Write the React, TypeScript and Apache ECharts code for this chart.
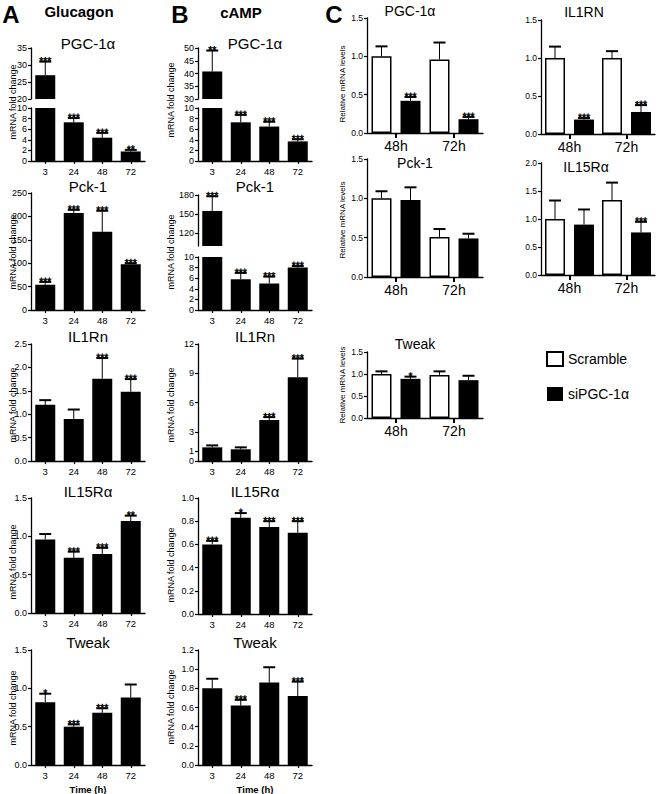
import React, { useEffect, useRef } from 'react';
import * as echarts from 'echarts';

const FONT = '"Liberation Sans", Arial, Helvetica, sans-serif';

// ---------- categories ----------
const timeCats = ['3', '24', '48', '72'];
const hourCats = ['48h', '72h'];

// ---------- Panel A (Glucagon) ----------
const aPgcMean = [27, 7.3, 4.4, 1.8];
const aPgcTop = [31, 8.1, 5.3, 2.1];
const aPgcSig = ['***', '***', '***', '**'];
const aPckMean = [54, 207, 167, 98];
const aPckTop = [60, 214, 212, 100];
const aPckSig = ['***', '***', '***', '***'];
const aIl1Mean = [1.2, 0.9, 1.76, 1.48];
const aIl1Top = [1.3, 1.1, 2.2, 1.75];
const aIl1Sig = ['', '', '***', '***'];
const aIl15Mean = [0.96, 0.72, 0.77, 1.2];
const aIl15Top = [1.03, 0.8, 0.85, 1.27];
const aIl15Sig = ['', '***', '***', '**'];
const aTwkMean = [0.82, 0.5, 0.68, 0.88];
const aTwkTop = [0.93, 0.53, 0.74, 1.05];
const aTwkSig = ['*', '***', '***', ''];

// ---------- Panel B (cAMP) ----------
const bPgcMean = [40.8, 7.3, 6.5, 3.7];
const bPgcTop = [49, 8.7, 7.4, 4.1];
const bPgcSig = ['**', '***', '***', '***'];
const bPckMean = [155, 5.8, 5.0, 8.0];
const bPckTop = [178, 7.0, 6.3, 8.3];
const bPckSig = ['***', '***', '***', '***'];
const bIl1Mean = [1.4, 1.2, 4.2, 8.6];
const bIl1Top = [1.6, 1.4, 4.5, 10.5];
const bIl1Sig = ['', '', '***', '***'];
const bIl15Mean = [0.6, 0.83, 0.75, 0.7];
const bIl15Top = [0.63, 0.87, 0.8, 0.8];
const bIl15Sig = ['***', '*', '***', '***'];
const bTwkMean = [0.8, 0.62, 0.86, 0.72];
const bTwkTop = [0.9, 0.68, 1.02, 0.87];
const bTwkSig = ['', '***', '', '***'];

// ---------- Panel C (Scramble vs siPGC-1α) ----------
const cPgcScr = [1.0, 0.96];
const cPgcScrTop = [1.13, 1.18];
const cPgcSi = [0.42, 0.18];
const cPgcSiTop = [0.47, 0.21];
const cPgcSiSig = ['***', '***'];
const cIl1Scr = [1.0, 1.0];
const cIl1ScrTop = [1.15, 1.09];
const cIl1Si = [0.19, 0.29];
const cIl1SiTop = [0.21, 0.38];
const cIl1SiSig = ['***', '***'];
const cPckScr = [1.0, 0.51];
const cPckScrTop = [1.09, 0.61];
const cPckSi = [0.98, 0.49];
const cPckSiTop = [1.14, 0.55];
const cPckSiSig = ['', ''];
const cIl15Scr = [1.0, 1.34];
const cIl15ScrTop = [1.33, 1.65];
const cIl15Si = [0.9, 0.76];
const cIl15SiTop = [1.17, 0.95];
const cIl15SiSig = ['', '***'];
const cTwkScr = [1.0, 0.98];
const cTwkScrTop = [1.06, 1.06];
const cTwkSi = [0.89, 0.86];
const cTwkSiTop = [0.94, 0.96];
const cTwkSiSig = ['*', ''];

const legendNames = ['Scramble', 'siPGC-1α'];

type Seg = {
  top: number; bottom: number; min: number; max: number;
  interval?: number; ticks?: number[]; dec: number;
};

function buildOption() {
  const grid: any[] = [];
  const xAxis: any[] = [];
  const yAxis: any[] = [];
  const series: any[] = [];
  const graphic: any[] = [];

  const addAxes = (left: number, width: number, seg: Seg, cats: string[], showX: boolean, big: boolean) => {
    const gi = grid.length;
    grid.push({ left, top: seg.top, width, height: seg.bottom - seg.top, outerBoundsMode: 'none' });
    xAxis.push({
      type: 'category', gridIndex: gi, data: cats,
      axisLine: { show: showX, onZero: false, lineStyle: { color: '#000', width: 1.3 } },
      axisTick: { show: showX, alignWithLabel: true, length: big ? 5 : 3, lineStyle: { color: '#000', width: big ? 2 : 1.2 } },
      axisLabel: { show: showX, color: '#000', fontFamily: FONT, fontSize: big ? 14 : 9.5, margin: big ? 6 : 5 },
      splitLine: { show: false },
    });
    const y: any = {
      type: 'value', gridIndex: gi, min: seg.min, max: seg.max,
      axisLine: { show: true, lineStyle: { color: '#000', width: 1.3 } },
      axisTick: { show: true, length: 3, lineStyle: { color: '#000', width: 1.2 } },
      axisLabel: {
        color: '#000', fontFamily: FONT, fontSize: big ? 8.5 : 9, margin: 4,
        formatter: (v: number) => v.toFixed(seg.dec),
      },
      splitLine: { show: false },
    };
    if (seg.ticks) {
      y.axisLabel.customValues = seg.ticks;
      y.axisTick.customValues = seg.ticks;
    } else {
      y.interval = seg.interval;
    }
    yAxis.push(y);
    return gi;
  };

  const errSeries = (gi: number, entries: any[], offset: number) => ({
    type: 'custom', xAxisIndex: gi, yAxisIndex: gi, silent: true, z: 10, clip: false,
    data: entries.map((e) => [e.i, e.mean, e.top]),
    renderItem: (params: any, api: any) => {
      const e = entries[params.dataIndex];
      const pTop = api.coord([e.i, e.top]);
      const pBase = api.coord([e.i, e.mean]);
      const x = pTop[0] + offset;
      const children: any[] = [
        { type: 'line', shape: { x1: x, y1: pBase[1], x2: x, y2: pTop[1] }, style: { stroke: '#000', lineWidth: 1 } },
        { type: 'line', shape: { x1: x - 6, y1: pTop[1], x2: x + 6, y2: pTop[1] }, style: { stroke: '#000', lineWidth: 2 } },
      ];
      if (e.sig) {
        children.push({
          type: 'text', x, y: pTop[1] - 1, rotation: 0.002,
          style: {
            text: e.sig, fill: '#000', stroke: '#000', lineWidth: 0.4, font: `10.5px ${FONT}`,
            align: 'center', verticalAlign: 'middle',
          },
        });
      }
      return { type: 'group', children };
    },
  });

  // simple (possibly broken) panel: segs[0] lower, segs[1] upper
  const addSimple = (left: number, width: number, segs: Seg[], mean: number[], top: number[], sig: string[]) => {
    segs.forEach((seg, k) => {
      const isUpper = k === 1;
      const gi = addAxes(left, width, seg, timeCats, !isUpper, false);
      const data = mean.map((v) => (isUpper ? (v > seg.min ? v : '-') : Math.min(v, seg.max)));
      series.push({
        type: 'bar', xAxisIndex: gi, yAxisIndex: gi, data, barWidth: 20, clip: true, silent: true,
        itemStyle: { color: '#000' },
      });
      const entries = mean
        .map((m, i) => ({ i, mean: m, top: top[i], sig: sig[i] }))
        .filter((e) => segs.length === 1 || (isUpper ? e.top > segs[1].min : e.top <= segs[1].min));
      series.push(errSeries(gi, entries, 0));
    });
  };

  const addGrouped = (
    left: number, width: number, seg: Seg,
    scr: number[], scrTop: number[], si: number[], siTop: number[], siSig: string[],
  ) => {
    const gi = addAxes(left, width, seg, hourCats, true, true);
    series.push({
      type: 'bar', name: legendNames[0], xAxisIndex: gi, yAxisIndex: gi, data: scr,
      barWidth: 20, barGap: '45%', silent: true,
      itemStyle: { color: '#fff', borderColor: '#000', borderWidth: 1.5 },
    });
    series.push({
      type: 'bar', name: legendNames[1], xAxisIndex: gi, yAxisIndex: gi, data: si,
      barWidth: 20, barGap: '45%', silent: true,
      itemStyle: { color: '#000' },
    });
    series.push(errSeries(gi, scr.map((m, i) => ({ i, mean: m, top: scrTop[i], sig: '' })), -14.5));
    series.push(errSeries(gi, si.map((m, i) => ({ i, mean: m, top: siTop[i], sig: siSig[i] })), 14.5));
  };

  const AL = 31, BL = 198, PW = 114;
  // Panel A
  addSimple(AL, PW, [
    { top: 108, bottom: 161, min: 0, max: 10, interval: 2, dec: 0 },
    { top: 48, bottom: 99, min: 20, max: 35, interval: 5, dec: 0 },
  ], aPgcMean, aPgcTop, aPgcSig);
  addSimple(AL, PW, [{ top: 193, bottom: 310, min: 0, max: 250, interval: 50, dec: 0 }], aPckMean, aPckTop, aPckSig);
  addSimple(AL, PW, [{ top: 344, bottom: 461, min: 0, max: 2.5, interval: 0.5, dec: 1 }], aIl1Mean, aIl1Top, aIl1Sig);
  addSimple(AL, PW, [{ top: 498, bottom: 613, min: 0, max: 1.5, interval: 0.5, dec: 1 }], aIl15Mean, aIl15Top, aIl15Sig);
  addSimple(AL, PW, [{ top: 650, bottom: 765, min: 0, max: 1.5, interval: 0.5, dec: 1 }], aTwkMean, aTwkTop, aTwkSig);
  // Panel B
  addSimple(BL, PW, [
    { top: 108, bottom: 161, min: 0, max: 10, interval: 2, dec: 0 },
    { top: 48, bottom: 99, min: 30, max: 50, interval: 5, dec: 0 },
  ], bPgcMean, bPgcTop, bPgcSig);
  addSimple(BL, PW, [
    { top: 257, bottom: 310, min: 0, max: 10, interval: 2, dec: 0 },
    { top: 195, bottom: 246, min: 100, max: 180, ticks: [120, 150, 180], dec: 0 },
  ], bPckMean, bPckTop, bPckSig);
  addSimple(BL, PW, [{ top: 344, bottom: 461, min: 0, max: 12, ticks: [0, 1, 3, 6, 9, 12], dec: 0 }], bIl1Mean, bIl1Top, bIl1Sig);
  addSimple(BL, PW, [{ top: 498, bottom: 614, min: 0, max: 1.0, interval: 0.2, dec: 1 }], bIl15Mean, bIl15Top, bIl15Sig);
  addSimple(BL, PW, [{ top: 650, bottom: 765, min: 0, max: 1.2, interval: 0.2, dec: 1 }], bTwkMean, bTwkTop, bTwkSig);
  // Panel C
  const CL1 = 367, CL2 = 541;
  addGrouped(CL1, 116, { top: 18, bottom: 133, min: 0, max: 1.5, interval: 0.5, dec: 1 }, cPgcScr, cPgcScrTop, cPgcSi, cPgcSiTop, cPgcSiSig);
  addGrouped(CL2, 114, { top: 20, bottom: 134, min: 0, max: 1.5, interval: 0.5, dec: 1 }, cIl1Scr, cIl1ScrTop, cIl1Si, cIl1SiTop, cIl1SiSig);
  addGrouped(CL1, 116, { top: 159, bottom: 277, min: 0, max: 1.5, interval: 0.5, dec: 1 }, cPckScr, cPckScrTop, cPckSi, cPckSiTop, cPckSiSig);
  addGrouped(CL2, 114, { top: 163, bottom: 275, min: 0, max: 2.0, interval: 0.5, dec: 1 }, cIl15Scr, cIl15ScrTop, cIl15Si, cIl15SiTop, cIl15SiSig);
  addGrouped(CL1, 116, { top: 352, bottom: 418, min: 0, max: 1.5, interval: 0.5, dec: 1 }, cTwkScr, cTwkScrTop, cTwkSi, cTwkSiTop, cTwkSiSig);

  const txt = (text: string, x: number, y: number, font: string, extra: any = {}) => {
    graphic.push({
      type: 'text', x, y, silent: true, ...extra,
      style: {
        text, fill: '#000', font, align: 'center', verticalAlign: 'middle',
      },
    });
  };
  const title = (t: string, x: number, y: number, size: number) => txt(t, x, y, `${size}px ${FONT}`);
  const yName = (t: string, x: number, y: number, size: number) =>
    txt(t, x, y, `${size}px ${FONT}`, { rotation: Math.PI / 2 });

  // letters and headers
  txt('A', 11, 14, `bold 24px ${FONT}`);
  txt('B', 180, 14, `bold 24px ${FONT}`);
  txt('C', 334, 14, `bold 24px ${FONT}`);
  txt('Glucagon', 79, 11, `bold 15px ${FONT}`);
  txt('cAMP', 241, 12, `bold 15px ${FONT}`);

  const titlesA = ['PGC-1α', 'Pck-1', 'IL1Rn', 'IL15Rα', 'Tweak'];
  const titleY = [43, 186, 336, 491, 642];
  titlesA.forEach((t, i) => { title(t, 88, titleY[i], 15); title(t, 255, titleY[i], 15); });
  title('PGC-1α', 410, 11, 14);
  title('IL1RN', 584, 12, 14);
  title('Pck-1', 415, 163, 14);
  title('IL15Rα', 586, 167, 14);
  title('Tweak', 415, 344, 14);

  const nameAY = [102, 252, 405, 562, 708];
  const nameBY = [100, 252, 405, 565, 707];
  nameAY.forEach((y) => yName('mRNA fold change', 13, y, 9));
  nameBY.forEach((y) => yName('mRNA fold change', 171, y, 9));
  [84, 220, 385].forEach((y) => yName('Relative mRNA levels', 342, y, 8));

  txt('Time (h)', 88, 789, `bold 9.5px ${FONT}`);
  txt('Time (h)', 255, 789, `bold 9.5px ${FONT}`);

  return {
    animation: false,
    backgroundColor: '#fff',
    color: ['#000'],
    tooltip: { show: false },
    legend: {
      data: legendNames, orient: 'vertical', left: 541, top: 346,
      itemWidth: 16, itemHeight: 14, itemGap: 20, icon: 'rect', selectedMode: false,
      textStyle: { color: '#000', fontFamily: FONT, fontSize: 14 },
    },
    grid, xAxis, yAxis, series, graphic,
  };
}

export default function App() {
  const ref = useRef<HTMLDivElement>(null);
  useEffect(() => {
    if (!ref.current) return;
    const chart = echarts.init(ref.current, undefined, { renderer: 'svg' });
    chart.setOption(buildOption() as any);
    return () => chart.dispose();
  }, []);
  return (
    <div
      ref={ref}
      style={{ position: 'absolute', left: 0, top: 0, width: 656, height: 794, background: '#fff' }}
    />
  );
}
